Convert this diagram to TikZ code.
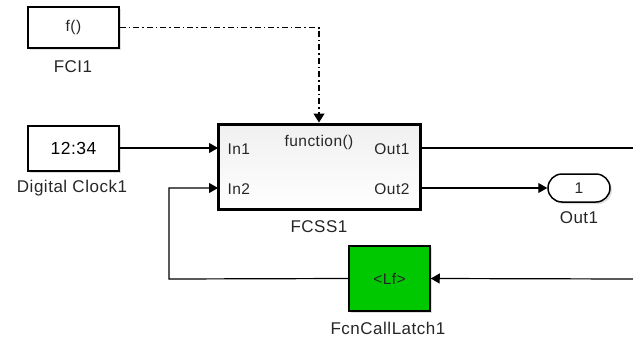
\documentclass[tikz,border=0pt]{standalone}
\usepackage{fontspec}
\setmainfont{Liberation Sans}[LetterSpace=3]
\usetikzlibrary{arrows.meta,shadows,calc}
\definecolor{latchgreen}{RGB}{0,200,0}
\begin{document}
\begin{tikzpicture}[x=1pt,y=-1pt,
  blk/.style={draw=black,line width=1.5pt,fill=white,inner sep=0pt,
    drop shadow={shadow xshift=2pt,shadow yshift=-2pt,opacity=0.25,fill=gray}},
  lbl/.style={font=\fontsize{17}{17}\selectfont,text=black!85},
  port/.style={font=\fontsize{15.5}{15.5}\selectfont,text=black!85},
  wire/.style={line width=1.2pt},
  arr/.style={wire,-{Triangle[length=9pt,width=10pt]}},
  ctrl/.style={wire,dash pattern=on 6pt off 3pt on 1.5pt off 3pt,-{Triangle[length=9pt,width=11pt]}}
]
\useasboundingbox (0,0) rectangle (633,338);

% blocks
\node[blk,minimum width=91pt,minimum height=41pt,port] (fci) at (73.5,27.5) {f()};
\node[lbl] (fcil) at (73,67) {FCI1};

\node[blk,minimum width=91pt,minimum height=45pt,font=\fontsize{17.5}{17.5}\selectfont] (clock) at (73.5,148.5) {12:34};
\node[lbl] (clockl) at (72,188) {Digital Clock1};

\node[blk,line width=3pt,minimum width=202pt,minimum height=85pt,
  top color=gray!12,bottom color=white] (fcss) at (319,166.5) {};
\node[lbl] (fcssl) at (319,227) {FCSS1};
\node[port,anchor=west] (pin1) at (224,149) {In1};
\node[port,anchor=west] (pin2) at (224,189) {In2};
\node[port,anchor=east] (pout1) at (413,149) {Out1};
\node[port,anchor=east] (pout2) at (413,189) {Out2};
\node[port] (pfun) at (319,142) {function()};

\node[blk,rounded corners=14pt,minimum width=62pt,minimum height=28pt,port] (out1) at (579,188) {1};
\node[lbl] (out1l) at (579,218) {Out1};

\node[blk,fill=latchgreen,minimum width=81pt,minimum height=65pt,port] (latch) at (389.5,278.5) {<Lf>};
\node[lbl] (latchl) at (388,328) {FcnCallLatch1};

% coordinates
\coordinate (fin1) at (218,148);
\coordinate (fin2) at (218,188);
\coordinate (fout1) at (420,148);
\coordinate (fout2) at (420,188);
\coordinate (rend1) at (633,148);
\coordinate (rend2) at (633,279);
\coordinate (bend) at (169,279);

% connectors
\draw[ctrl] (fci.east) -| (fcss.north);
\draw[arr] (clock.east |- fin1) -- (fin1);
\draw[wire] (fout1) -- (rend1);
\draw[arr] (fout2) -- (out1.west);
\draw[arr] (rend2) -- (latch.east);
\draw[arr] (latch.west) -- (bend) |- (fin2);
\end{tikzpicture}
\end{document}
